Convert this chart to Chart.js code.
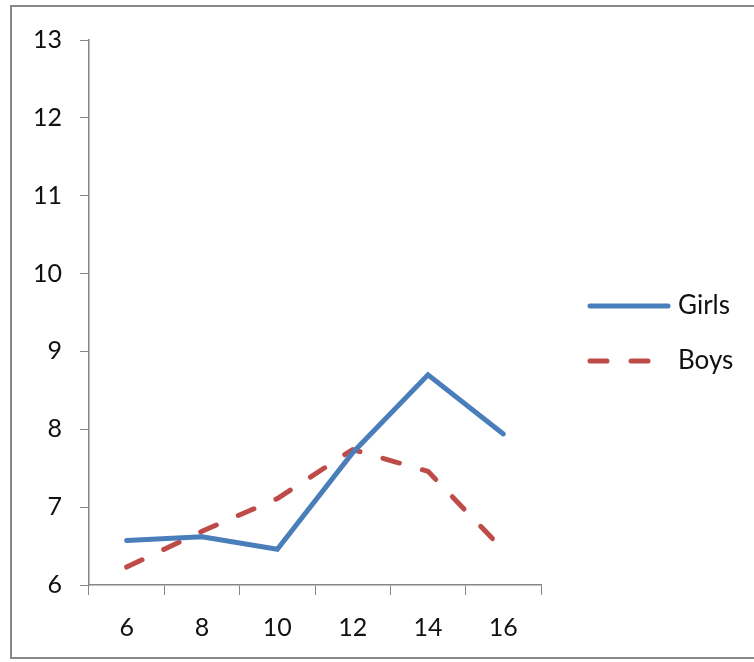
<!DOCTYPE html>
<html>
<head>
<meta charset="utf-8">
<script src="https://cdn.jsdelivr.net/npm/chart.js@4.4.0/dist/chart.umd.min.js"></script>
<style>
  html, body { margin: 0; padding: 0; background: #fff; }
  #wrap { position: relative; width: 754px; height: 662px; overflow: hidden; }
  #frame { position: absolute; left: 10px; top: 5px; width: 800px; height: 654px; border: 2.5px solid #878787; box-sizing: border-box; }
  canvas { position: absolute; left: 0; top: 0; }
</style>
</head>
<body>
<div id="wrap">
  <div id="frame"></div>
  <canvas id="chart" width="754" height="662"></canvas>
</div>
<script>
// ages on the x axis
const ages = ['6', '8', '10', '12', '14', '16'];
const girls = [6.57, 6.62, 6.46, 7.70, 8.70, 7.94];
const boys = [6.23, 6.69, 7.11, 7.74, 7.46, 6.45];
const seriesNames = ['Girls', 'Boys'];

const axisColor = '#868686';
const fontFamily = 'Lato, "Open Sans", sans-serif';

// legend drawn by hand so the line samples sit like in Excel
const sideLegend = {
  id: 'sideLegend',
  afterDraw(chart) {
    const ctx = chart.ctx;
    const area = chart.chartArea;
    const x0 = area.right + 49;
    const mid = chart.height / 2;
    chart.data.datasets.forEach((ds, i) => {
      const y = mid - 25 + i * 55;
      ctx.save();
      ctx.strokeStyle = ds.borderColor;
      ctx.lineWidth = ds.borderWidth;
      ctx.lineCap = 'round';
      ctx.setLineDash(ds.borderDash || []);
      ctx.beginPath();
      ctx.moveTo(x0, y);
      ctx.lineTo(x0 + 78, y);
      ctx.stroke();
      ctx.setLineDash([]);
      ctx.fillStyle = '#111';
      ctx.font = '26px ' + fontFamily;
      ctx.textBaseline = 'middle';
      ctx.fillText(ds.label, x0 + 88, y);
      ctx.restore();
    });
  }
};

const ctx = document.getElementById('chart');
const myChart = new Chart(ctx, {
  type: 'line',
  data: {
    labels: ages,
    datasets: [
      {
        label: seriesNames[0],
        data: girls,
        borderColor: '#4A7EBB',
        borderWidth: 5,
        pointRadius: 0,
        tension: 0,
        borderCapStyle: 'round',
        borderJoinStyle: 'miter'
      },
      {
        label: seriesNames[1],
        data: boys,
        borderColor: '#BE4B48',
        borderWidth: 5,
        borderDash: [17, 24],
        pointRadius: 0,
        tension: 0,
        borderCapStyle: 'round',
        borderJoinStyle: 'round'
      }
    ]
  },
  options: {
    responsive: false,
    animation: false,
    layout: { padding: { left: 0, right: 213, top: 40, bottom: 0 } },
    plugins: {
      legend: { display: false },
      tooltip: { enabled: false }
    },
    scales: {
      x: {
        offset: true,
        grid: {
          offset: true,
          drawOnChartArea: false,
          color: axisColor,
          tickLength: 10,
          tickColor: axisColor
        },
        border: { color: axisColor, width: 1.5 },
        ticks: {
          color: '#111',
          padding: 18,
          font: { family: fontFamily, size: 25 },
          maxRotation: 0
        },
        afterFit(scale) { scale.height = 77; }
      },
      y: {
        min: 6,
        max: 13,
        grid: {
          drawOnChartArea: false,
          color: axisColor,
          tickLength: 9,
          tickColor: axisColor
        },
        border: { color: axisColor, width: 1.5 },
        ticks: {
          stepSize: 1,
          color: '#111',
          padding: 18,
          font: { family: fontFamily, size: 25 }
        },
        afterFit(scale) { scale.width = 89; }
      }
    }
  },
  plugins: [sideLegend]
});
</script>
</body>
</html>
